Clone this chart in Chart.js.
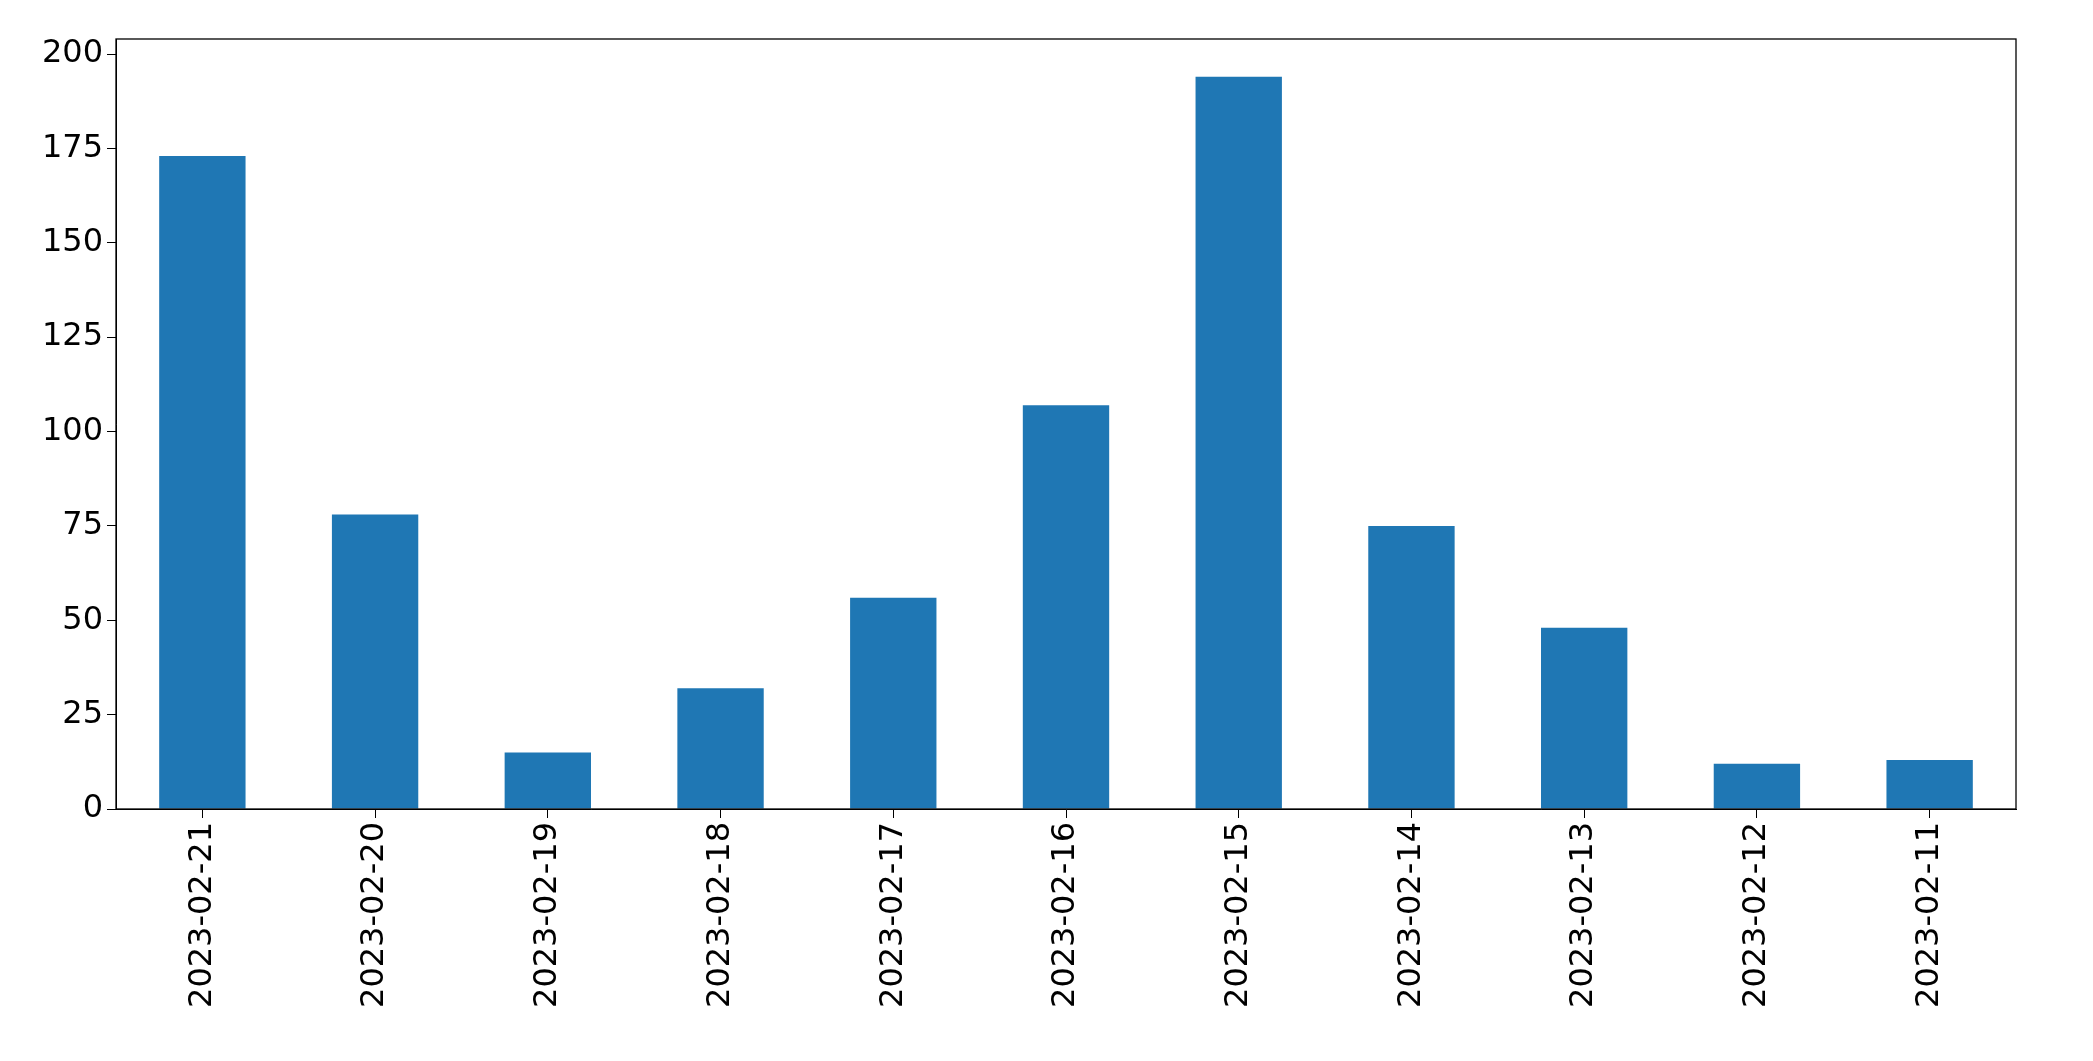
<!DOCTYPE html>
<html>
<head>
<meta charset="utf-8">
<script src="https://cdn.jsdelivr.net/npm/chart.js@4"></script>
<style>
  html, body { margin: 0; padding: 0; background: #fff; }
  #wrap { width: 2093px; height: 1061px; }
</style>
</head>
<body>
<div id="wrap"><canvas id="barChart"></canvas></div>
<script>
// values
const dates = ['2023-02-21', '2023-02-20', '2023-02-19', '2023-02-18', '2023-02-17', '2023-02-16',
               '2023-02-15', '2023-02-14', '2023-02-13', '2023-02-12', '2023-02-11'];
const counts = [173, 78, 15, 32, 56, 107, 194, 75, 48, 12, 13];
const yTicks = [0, 25, 50, 75, 100, 125, 150, 175, 200];

const frame = {
    id: 'frame',
    afterDraw(chart) {
        const {ctx, chartArea: a} = chart;
        ctx.save();
        ctx.strokeStyle = '#000';
        ctx.lineWidth = 1.3;
        ctx.strokeRect(a.left, a.top, a.right - a.left, a.bottom - a.top);
        ctx.restore();
    }
};

const tickFont = {family: 'DejaVu Sans', size: 32};

new Chart(document.querySelector('#barChart'), {
    type: 'bar',
    data: {
        labels: dates,
        datasets: [{
            data: counts,
            backgroundColor: '#1f77b4',
            barPercentage: 0.5,
            categoryPercentage: 1.0
        }]
    },
    options: {
        responsive: true,
        maintainAspectRatio: false,
        animation: false,
        layout: {padding: {top: 39, right: 77, left: 0, bottom: 0}},
        plugins: {legend: {display: false}, tooltip: {enabled: false}},
        scales: {
            x: {
                grid: {display: true, drawOnChartArea: false, offset: false, tickLength: 9, color: '#000'},
                border: {color: '#000'},
                ticks: {color: '#000', font: tickFont, maxRotation: 90, minRotation: 90, padding: 4},
                afterFit(s) { s.height = 252; }
            },
            y: {
                min: 0,
                max: 204,
                afterBuildTicks(s) { s.ticks = yTicks.map(v => ({value: v})); },
                grid: {display: true, drawOnChartArea: false, tickLength: 9, color: '#000'},
                border: {color: '#000'},
                ticks: {color: '#000', font: tickFont, padding: 4},
                afterFit(s) { s.width = 116; }
            }
        }
    },
    plugins: [frame]
});
</script>
</body>
</html>
